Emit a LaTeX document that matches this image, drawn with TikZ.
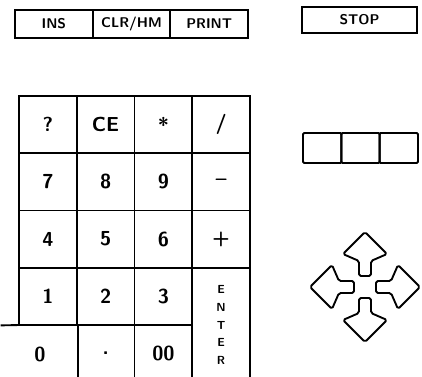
\documentclass[tikz,border=0pt]{standalone}
\usepackage{tikz}
\usetikzlibrary{positioning}
\tikzset{
  keybox/.style={rectangle, draw, line width=1.6pt, minimum width=1.7325cm, minimum height=1.7175cm, inner sep=0pt, outer sep=0pt, font=\sffamily\bfseries\LARGE},
  keyopen/.style={keybox, draw=none},
  topbox/.style={rectangle, draw, line width=1.6pt, minimum width=2.33cm, minimum height=0.84cm, inner sep=0pt, outer sep=0pt, font=\sffamily\bfseries\large},
  dispbox/.style={rectangle, draw, line width=1.6pt, rounded corners=1pt, minimum width=1.15cm, minimum height=0.9cm, inner sep=0pt, outer sep=0pt},
  keyline/.style={line width=1.6pt, line cap=rect},
  padarrow/.style={draw, line width=1.6pt, rounded corners=1.5pt, line join=round},
}

\begin{document}
\begin{tikzpicture}[x=0.03cm,y=-0.03cm]
  \useasboundingbox (0,0) rectangle (422,377);

  % top function keys
  \node[topbox] (ins)  at (53.8,24) {INS};
  \node[topbox] (clr)  at (131.5,24) {CLR/HM};
  \node[topbox] (prnt) at (209.2,24) {PRINT};
  \node[topbox, minimum width=3.45cm, minimum height=0.78cm] (stop) at (359.5,20) {STOP};

  % keypad
  \node[keybox] (kq)   at (47.9,124.6)  {?};
  \node[keybox] (kce)  at (105.6,124.6) {CE};
  \node[keybox] (kmul) at (163.4,124.6) {\raisebox{-0.45ex}{*}};
  \node[keybox] (kdiv) at (221.1,124.6) {/};
  \node[keybox] (k7)   at (47.9,181.9)  {7};
  \node[keybox] (k8)   at (105.6,181.9) {8};
  \node[keybox] (k9)   at (163.4,181.9) {9};
  \node[keybox] (ksub) at (221.1,181.9) {--};
  \node[keybox] (k4)   at (47.9,239.1)  {4};
  \node[keybox] (k5)   at (105.6,239.1) {5};
  \node[keybox] (k6)   at (163.4,239.1) {6};
  \node[keybox] (kadd) at (221.1,239.1) {+};
  \node[keybox] (k1)   at (47.9,296.4)  {1};
  \node[keybox] (k2)   at (105.6,296.4) {2};
  \node[keybox] (k3)   at (163.4,296.4) {3};
  \node[keyopen, minimum height=3.435cm, align=center, font=\sffamily\bfseries] (kent) at (221.1,325)
    {E\\[3pt]N\\[3pt]T\\[3pt]E\\[3pt]R};
  \node[keyopen, minimum width=2.3025cm] (kzero) at (40,354) {0};
  \node[keyopen] (kdot) at (105.6,353.6) {.};
  \node[keyopen] (kdz)  at (163.4,353.6) {00};

  \draw[keyline] (kzero.north west) -- (k1.south west);
  \draw[keyline] (kzero.north east) -- (kzero.south east);
  \draw[keyline] (kdot.north east) -- (kdot.south east);
  \draw[keyline] (kent.north west) -- (kent.south west);
  \draw[keyline] (kent.north east) -- (kent.south east);

  % display
  \node[dispbox] (d1) at (322.2,148) {};
  \node[dispbox] (d2) at (360.5,148) {};
  \node[dispbox] (d3) at (398.8,148) {};

  % cursor pad
  \coordinate (pad) at (365,287);
  \foreach \ang in {0,90,180,270}
    \draw[padarrow, shift={(pad)}, rotate=\ang] (11,-6) -- (26,-6) -- (33,-22) -- (55,0) -- (33,22) -- (26,6) -- (11,6) -- cycle;
\end{tikzpicture}
\end{document}
